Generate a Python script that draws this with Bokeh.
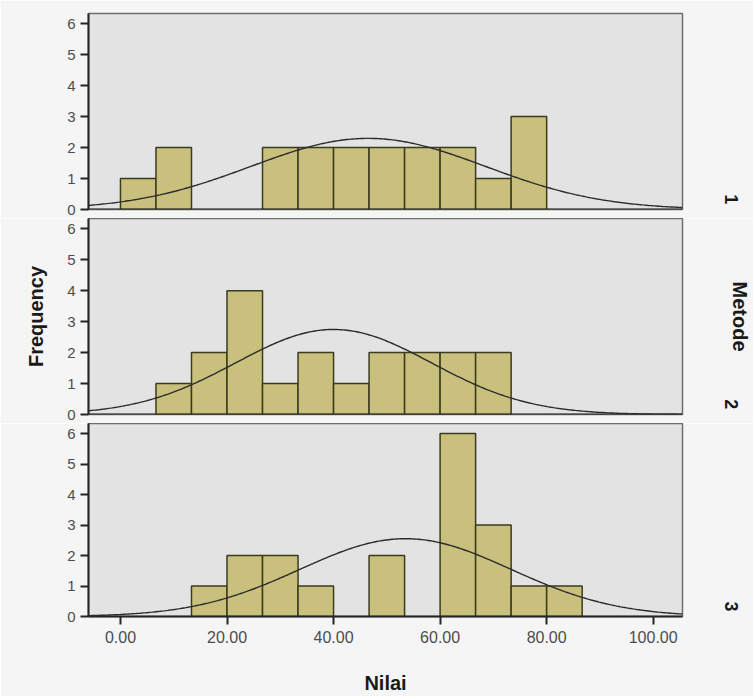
import math
import numpy as np
from bokeh.plotting import figure
from bokeh.layouts import column
from bokeh.models import Span, FixedTicker, NumeralTickFormatter, ColumnDataSource, LinearAxis
from bokeh.embed import file_html
from bokeh.resources import INLINE

# ---- data ----
bin_start = 0.0
bin_width = 100.0 / 15.0
counts_metode1 = [1, 2, 0, 0, 2, 2, 2, 2, 2, 2, 1, 3, 0]
counts_metode2 = [0, 1, 2, 4, 1, 2, 1, 2, 2, 2, 2, 0, 0]
counts_metode3 = [0, 0, 1, 2, 2, 1, 0, 2, 0, 6, 3, 1, 1]
panel_labels = ["1", "2", "3"]
curve_mean = [46.5, 40.0, 53.5]
curve_sd = [22.0, 18.4, 19.8]
n_cases = [19, 19, 19]
x_ticks = [0, 20, 40, 60, 80, 100]
y_ticks = [0, 1, 2, 3, 4, 5, 6]

FONT = "Liberation Sans"
BAR_FILL = "#c8c07c"
BAR_LINE = "#3b3b1e"
PLOT_BG = "#e3e3e3"
PAGE_BG = "#f5f5f5"
X_RANGE = (-6.0, 105.5)
Y_RANGE = (0.0, 6.33)
PANEL_LABEL_POS = 0.33

all_counts = [counts_metode1, counts_metode2, counts_metode3]
heights = [218, 205, 273]
tops = [13, 0, 0]
bottoms = [9, 9, 77]
figs = []
for i, counts in enumerate(all_counts):
    last = i == 2
    p = figure(width=753, height=heights[i],
               x_range=X_RANGE, y_range=Y_RANGE,
               output_backend="svg", toolbar_location=None,
               min_border_left=88, min_border_right=71,
               min_border_top=tops[i], min_border_bottom=bottoms[i])
    p.background_fill_color = PLOT_BG
    p.border_fill_color = PAGE_BG
    p.outline_line_color = "#6e6e6e"
    p.outline_line_width = 1.5
    p.xgrid.visible = False
    p.ygrid.visible = False

    left = [bin_start + k * bin_width for k in range(len(counts))]
    src = ColumnDataSource(dict(
        left=[l for l, c in zip(left, counts) if c > 0],
        right=[l + bin_width for l, c in zip(left, counts) if c > 0],
        top=[c for c in counts if c > 0],
    ))
    p.quad(left="left", right="right", bottom=0, top="top", source=src,
           fill_color=BAR_FILL, line_color=BAR_LINE, line_width=1.5)

    xs = np.linspace(X_RANGE[0], X_RANGE[1], 300)
    m, s = curve_mean[i], curve_sd[i]
    ys = n_cases[i] * bin_width * np.exp(-0.5 * ((xs - m) / s) ** 2) / (s * math.sqrt(2 * math.pi))
    p.line(xs, ys, line_color="#2b2b2b", line_width=1.4)

    # y axis
    p.yaxis.ticker = FixedTicker(ticks=y_ticks)
    p.yaxis.minor_tick_line_color = None
    p.yaxis.major_tick_out = 8
    p.yaxis.major_tick_in = 0
    p.yaxis.major_tick_line_color = "#262626"
    p.yaxis.major_tick_line_width = 2
    p.yaxis.axis_line_color = "#262626"
    p.yaxis.axis_line_width = 2
    p.yaxis.major_label_text_font = FONT
    p.yaxis.major_label_text_font_size = "15px"
    p.yaxis.major_label_text_color = "#4d4d4d"
    p.yaxis.major_label_standoff = 5
    if i == 1:
        p.yaxis.axis_label = "Frequency"
        p.yaxis.axis_label_text_font = FONT
        p.yaxis.axis_label_text_font_size = "20px"
        p.yaxis.axis_label_text_font_style = "bold"
        p.yaxis.axis_label_text_color = "#1a1a1a"
        p.yaxis.axis_label_standoff = 17

    # x axis
    if last:
        p.xaxis.ticker = FixedTicker(ticks=x_ticks)
        p.xaxis.formatter = NumeralTickFormatter(format="0.00")
        p.xaxis.minor_tick_line_color = None
        p.xaxis.major_tick_out = 8
        p.xaxis.major_tick_in = 0
        p.xaxis.major_tick_line_color = "#262626"
        p.xaxis.major_tick_line_width = 2
        p.xaxis.axis_line_color = "#262626"
        p.xaxis.axis_line_width = 2
        p.xaxis.major_label_text_font = FONT
        p.xaxis.major_label_text_font_size = "16px"
        p.xaxis.major_label_text_color = "#4d4d4d"
        p.xaxis.major_label_standoff = 6
        p.xaxis.axis_label = "Nilai"
        p.xaxis.axis_label_text_font = FONT
        p.xaxis.axis_label_text_font_size = "20px"
        p.xaxis.axis_label_text_font_style = "bold"
        p.xaxis.axis_label_text_color = "#1a1a1a"
        p.xaxis.axis_label_standoff = 26
    else:
        p.xaxis.visible = False
        p.add_layout(Span(location=0, dimension="width", line_color="#262626", line_width=2))

    # right-side panel label (Metode value)
    ra = LinearAxis(ticker=FixedTicker(ticks=[PANEL_LABEL_POS]),
                    major_label_overrides={PANEL_LABEL_POS: panel_labels[i]},
                    axis_line_color=None, major_tick_line_color=None,
                    minor_tick_line_color=None,
                    major_label_orientation="vertical",
                    major_label_standoff=36,
                    major_label_text_font=FONT,
                    major_label_text_font_size="18px",
                    major_label_text_font_style="bold",
                    major_label_text_color="#1a1a1a")
    if i == 1:
        ra.axis_label = "Metode"
        ra.axis_label_text_font = FONT
        ra.axis_label_text_font_size = "20px"
        ra.axis_label_text_font_style = "bold"
        ra.axis_label_text_color = "#1a1a1a"
        ra.axis_label_standoff = -12
    p.add_layout(ra, "right")
    figs.append(p)

layout = column(*figs, spacing=0)
open("out.html", "w").write(file_html(layout, INLINE))
